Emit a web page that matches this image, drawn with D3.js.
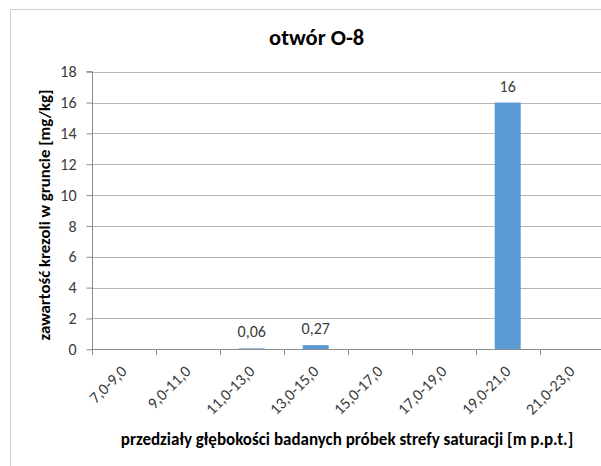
<!DOCTYPE html>
<html>
<head>
<meta charset="utf-8">
<script src="https://cdn.jsdelivr.net/npm/d3@7"></script>
<style>
  html, body { margin: 0; padding: 0; background: #fff; }
  svg { display: block; font-family: Calibri, Carlito, Lato, "Open Sans", sans-serif; }
</style>
</head>
<body>
<svg id="chart" width="601" height="466"></svg>
<script>
// Depth intervals (categories) and measured cresol content
const categories = ["7,0-9,0", "9,0-11,0", "11,0-13,0", "13,0-15,0", "15,0-17,0", "17,0-19,0", "19,0-21,0", "21,0-23,0"];
const values = [0, 0, 0.06, 0.27, 0, 0, 16, 0];
const yTicks = [0, 2, 4, 6, 8, 10, 12, 14, 16, 18];

const chartTitle = "otwór O-8";
const yTitle = "zawartość krezoli w gruncie [mg/kg]";
const xTitle = "przedziały głębokości badanych próbek strefy saturacji [m p.p.t.]";

const svg = d3.select("#chart");

// Chart frame (right and bottom edges fall outside the view)
svg.append("path")
  .attr("d", "M10.5,466 V9.5 H601")
  .attr("fill", "none")
  .attr("stroke", "#d0d0d0");

const plot = { left: 91.7, top: 71.7, bottom: 349.3 };
const step = 64;

const x = d3.scaleBand()
  .domain(categories)
  .range([plot.left, plot.left + step * categories.length])
  .padding(0);

const y = d3.scaleLinear()
  .domain([0, 18])
  .range([plot.bottom, plot.top]);

const barW = 26;

// Horizontal gridlines
svg.append("g")
  .selectAll("line")
  .data(yTicks.filter(d => d > 0))
  .join("line")
  .attr("x1", plot.left)
  .attr("x2", 601)
  .attr("y1", d => Math.round(y(d)) + 0.5)
  .attr("y2", d => Math.round(y(d)) + 0.5)
  .attr("stroke", "#b5b5b5")
  .attr("stroke-width", 1);

// Y axis
const yAxis = svg.append("g")
  .attr("transform", `translate(${Math.round(plot.left) + 0.5},0)`)
  .call(d3.axisLeft(y).tickValues(yTicks).tickSize(6).tickPadding(10).tickFormat(d3.format("d")));
yAxis.select(".domain").attr("stroke", "#8c8c8c").attr("d", `M-6,${y(18)}H0V${y(0)}`);
yAxis.selectAll(".tick line").attr("stroke", "#8c8c8c");
yAxis.selectAll(".tick text")
  .attr("font-size", 16)
  .attr("fill", "#3a3a3a")
  .attr("font-family", "Calibri, Carlito, Lato, sans-serif");

// Bars
svg.append("g")
  .selectAll("rect")
  .data(values.map((v, i) => ({ cat: categories[i], v })))
  .join("rect")
  .attr("x", d => x(d.cat) + x.bandwidth() / 2 - barW / 2)
  .attr("width", barW)
  .attr("y", d => y(d.v))
  .attr("height", d => y(0) - y(d.v))
  .attr("fill", "#5b9bd5");

// X axis line
const xAxis = svg.append("g")
  .attr("transform", `translate(0,${Math.round(plot.bottom) + 0.5})`)
  .call(d3.axisBottom(x).tickSize(0).tickFormat(""));
xAxis.select(".domain").attr("stroke", "#8c8c8c").attr("d", `M${plot.left},0H601`);
xAxis.selectAll(".tick").remove();

// Category boundary ticks
svg.append("g")
  .selectAll("line")
  .data(categories)
  .join("line")
  .attr("x1", d => Math.round(x(d)) + 0.5)
  .attr("x2", d => Math.round(x(d)) + 0.5)
  .attr("y1", Math.round(plot.bottom))
  .attr("y2", Math.round(plot.bottom) + 6)
  .attr("stroke", "#8c8c8c");

// Rotated category labels
svg.append("g")
  .selectAll("text")
  .data(categories)
  .join("text")
  .attr("transform", d => `translate(${x(d) + x.bandwidth() / 2 + 4},${plot.bottom + 23}) rotate(-45)`)
  .attr("text-anchor", "end")
  .attr("font-size", 16)
  .attr("fill", "#3a3a3a")
  .text(d => d);

// Value labels
const fmt = v => String(v).replace(".", ",");
svg.append("g")
  .selectAll("text")
  .data(values.map((v, i) => ({ cat: categories[i], v })).filter(d => d.v > 0))
  .join("text")
  .attr("x", d => x(d.cat) + x.bandwidth() / 2)
  .attr("y", d => y(d.v) - 11)
  .attr("text-anchor", "middle")
  .attr("font-size", 16)
  .attr("fill", "#3a3a3a")
  .text(d => fmt(d.v));

// Titles
svg.append("text")
  .attr("x", 316.7)
  .attr("y", 45)
  .attr("text-anchor", "middle")
  .attr("font-size", 22.5)
  .attr("font-weight", "bold")
  .attr("fill", "#000")
  .text(chartTitle);

svg.append("text")
  .attr("transform", `translate(50,215) rotate(-90)`)
  .attr("text-anchor", "middle")
  .attr("font-size", 16.8)
  .attr("font-weight", "bold")
  .attr("fill", "#000")
  .text(yTitle);

svg.append("text")
  .attr("x", 347)
  .attr("y", 445)
  .attr("text-anchor", "middle")
  .attr("font-size", 17)
  .attr("font-weight", "bold")
  .attr("fill", "#000")
  .text(xTitle);
</script>
</body>
</html>
